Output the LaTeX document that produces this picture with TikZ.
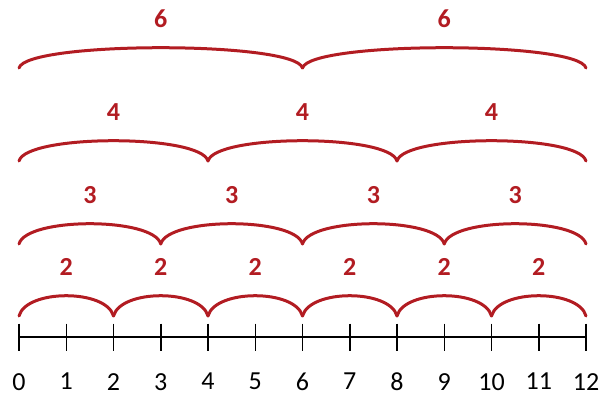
\documentclass[tikz,border=0pt]{standalone}
\usepackage{fontspec}
\setmainfont{Carlito}
\usepackage{xcolor}
\usepackage{tikz}

\definecolor{hopred}{RGB}{178,28,34}

\begin{document}
\begin{tikzpicture}[x=1pt, y=1pt,
    hop/.style={draw=hopred, line width=3pt, line cap=round, out=75, in=105, distance=28pt},
    hoplabel/.style={above=15pt, text=hopred, font=\fontsize{26}{26}\selectfont\bfseries},
    numlabel/.style={below=35pt, inner sep=1pt, font=\fontsize{26}{26}\selectfont},
    axis/.style={draw=black, line width=1.5pt}]

        \useasboundingbox (0,0) rectangle (603,397);

        % number line
        \foreach \i in {0,...,12}
            \coordinate (n\i) at (19+47.25*\i, 60);
        \draw[axis] (n0) -- (n12);
        \foreach \i in {0,...,12} {
            \draw[axis] (n\i) ++(0,13.5) -- ++(0,-27);
            \node[numlabel] (l\i) at (n\i) {\i};
        }

        % jump ends for each row
        \foreach \i in {0,2,...,12}
            \coordinate (two\i) at (19+47.25*\i, 81);
        \foreach \i in {0,3,...,12}
            \coordinate (three\i) at (19+47.25*\i, 153);
        \foreach \i in {0,4,...,12}
            \coordinate (four\i) at (19+47.25*\i, 236);
        \foreach \i in {0,6,...,12}
            \coordinate (six\i) at (19+47.25*\i, 329);

        \path
        (two0) edge[hop] node[hoplabel]{2} (two2)
        (two2) edge[hop] node[hoplabel]{2} (two4)
        (two4) edge[hop] node[hoplabel]{2} (two6)
        (two6) edge[hop] node[hoplabel]{2} (two8)
        (two8) edge[hop] node[hoplabel]{2} (two10)
        (two10) edge[hop] node[hoplabel]{2} (two12);

        \path
        (three0) edge[hop] node[hoplabel]{3} (three3)
        (three3) edge[hop] node[hoplabel]{3} (three6)
        (three6) edge[hop] node[hoplabel]{3} (three9)
        (three9) edge[hop] node[hoplabel]{3} (three12);

        \path
        (four0) edge[hop] node[hoplabel]{4} (four4)
        (four4) edge[hop] node[hoplabel]{4} (four8)
        (four8) edge[hop] node[hoplabel]{4} (four12);

        \path
        (six0) edge[hop] node[hoplabel]{6} (six6)
        (six6) edge[hop] node[hoplabel]{6} (six12);
    \end{tikzpicture}
\end{document}
